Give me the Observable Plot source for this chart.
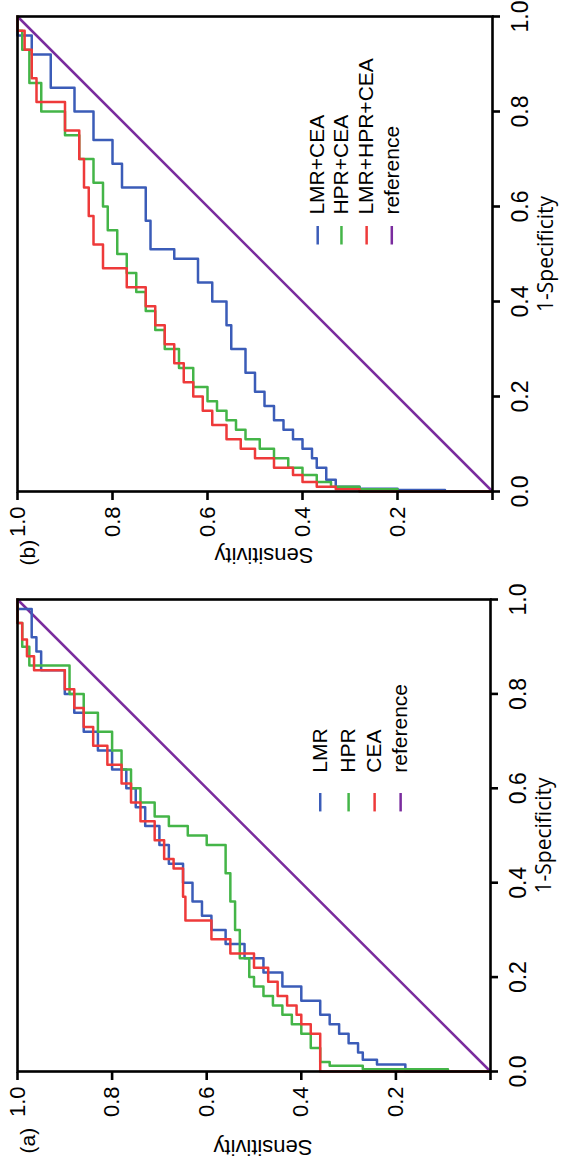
<!DOCTYPE html>
<html>
<head>
<meta charset="utf-8">
<script src="https://cdn.jsdelivr.net/npm/d3@7"></script>
<script src="https://cdn.jsdelivr.net/npm/@observablehq/plot@0.6"></script>
<style>
html, body { margin: 0; padding: 0; background: #fff; overflow: hidden; width: 561px; height: 1161px; }
#fig { position: absolute; left: 0; top: 0; width: 1161px; height: 561px; background: #fff;
       transform-origin: 0 0; transform: translate(0px, 1161px) rotate(-90deg); }
#fig > div { position: absolute; top: 0; }
</style>
</head>
<body>
<div id="fig"><div id="pa" style="left:0px"></div><div id="pb" style="left:580px"></div></div>
<script>
// ---------- data ----------
const xTicks = [0, 0.2, 0.4, 0.6, 0.8, 1.0];
const yTicks = [0, 0.2, 0.4, 0.6, 0.8, 1.0];
const refFpr = [0, 1];
const refSens = [0, 1];

// Panel (a)
const namesA = ["LMR", "HPR", "CEA", "reference"];
const aLMRfpr  = [0, 0.015, 0.025, 0.04, 0.06, 0.08, 0.10, 0.12, 0.15, 0.18, 0.21, 0.24, 0.27, 0.30, 0.33, 0.36, 0.40, 0.44, 0.48, 0.52, 0.56, 0.60, 0.64, 0.68, 0.72, 0.76, 0.80, 0.85, 0.89, 0.92, 0.98, 1];
const aLMRsens = [0, 0.18, 0.24, 0.27, 0.28, 0.30, 0.32, 0.34, 0.36, 0.40, 0.44, 0.48, 0.52, 0.56, 0.59, 0.61, 0.63, 0.65, 0.68, 0.70, 0.73, 0.75, 0.77, 0.80, 0.83, 0.86, 0.88, 0.90, 0.95, 0.96, 0.97, 1];
const aHPRfpr  = [0, 0.005, 0.012, 0.02, 0.05, 0.08, 0.10, 0.12, 0.14, 0.16, 0.18, 0.20, 0.24, 0.30, 0.36, 0.42, 0.48, 0.50, 0.52, 0.54, 0.57, 0.60, 0.64, 0.68, 0.72, 0.76, 0.80, 0.86, 0.90, 0.95, 1];
const aHPRsens = [0, 0.09, 0.27, 0.34, 0.36, 0.38, 0.40, 0.42, 0.44, 0.46, 0.48, 0.50, 0.51, 0.53, 0.54, 0.55, 0.56, 0.60, 0.64, 0.68, 0.71, 0.74, 0.76, 0.78, 0.80, 0.83, 0.86, 0.89, 0.975, 0.99, 1];
const aCEAfpr  = [0, 0.08, 0.10, 0.12, 0.14, 0.16, 0.19, 0.22, 0.25, 0.28, 0.32, 0.37, 0.43, 0.45, 0.49, 0.53, 0.57, 0.61, 0.65, 0.69, 0.73, 0.77, 0.81, 0.85, 0.88, 0.915, 0.95, 1];
const aCEAsens = [0, 0.36, 0.38, 0.40, 0.41, 0.43, 0.45, 0.47, 0.50, 0.55, 0.59, 0.645, 0.65, 0.67, 0.69, 0.71, 0.74, 0.76, 0.78, 0.81, 0.84, 0.86, 0.88, 0.90, 0.965, 0.98, 0.99, 1];

// Panel (b)
const namesB = ["LMR+CEA", "HPR+CEA", "LMR+HPR+CEA", "reference"];
const bLCfpr  = [0, 0.003, 0.006, 0.01, 0.025, 0.05, 0.07, 0.09, 0.11, 0.13, 0.15, 0.18, 0.21, 0.25, 0.30, 0.35, 0.40, 0.44, 0.49, 0.51, 0.57, 0.64, 0.69, 0.74, 0.80, 0.85, 0.92, 0.96, 1];
const bLCsens = [0, 0.10, 0.20, 0.28, 0.33, 0.35, 0.37, 0.38, 0.40, 0.42, 0.44, 0.46, 0.48, 0.50, 0.52, 0.55, 0.56, 0.59, 0.62, 0.67, 0.72, 0.73, 0.78, 0.80, 0.84, 0.88, 0.93, 0.97, 1];
const bHCfpr  = [0, 0.005, 0.01, 0.02, 0.035, 0.05, 0.07, 0.09, 0.11, 0.13, 0.15, 0.17, 0.19, 0.22, 0.26, 0.30, 0.34, 0.38, 0.42, 0.46, 0.50, 0.55, 0.60, 0.65, 0.70, 0.75, 0.80, 0.86, 0.93, 0.97, 1];
const bHCsens = [0, 0.20, 0.28, 0.34, 0.37, 0.40, 0.43, 0.46, 0.49, 0.52, 0.54, 0.56, 0.58, 0.60, 0.63, 0.66, 0.69, 0.71, 0.73, 0.75, 0.77, 0.79, 0.81, 0.82, 0.84, 0.87, 0.90, 0.95, 0.975, 0.99, 1];
const bLHCfpr  = [0, 0.005, 0.01, 0.02, 0.035, 0.05, 0.07, 0.09, 0.11, 0.14, 0.17, 0.20, 0.23, 0.27, 0.31, 0.35, 0.39, 0.43, 0.47, 0.52, 0.58, 0.64, 0.70, 0.76, 0.82, 0.87, 0.93, 0.97, 1];
const bLHCsens = [0, 0.28, 0.33, 0.37, 0.40, 0.42, 0.46, 0.50, 0.53, 0.56, 0.59, 0.61, 0.63, 0.65, 0.67, 0.69, 0.71, 0.73, 0.77, 0.82, 0.84, 0.85, 0.86, 0.87, 0.90, 0.96, 0.97, 0.985, 1];

// ---------- styles ----------
const colors = ["#3b5cb8", "#44b548", "#ee3a3a", "#7a2c9e"];
const SANS = "'Liberation Sans', Arial, sans-serif";

function rows(fpr, sens) { return d3.zip(fpr, sens).map(([f, s]) => ({fpr: f, sens: s})); }

function panel(cfg) {
  const marks = [
    Plot.line(rows(refFpr, refSens), {x: "fpr", y: "sens", stroke: colors[3], strokeWidth: 2.5}),
  ];
  cfg.series.forEach((s, i) => {
    marks.push(Plot.line(rows(s[0], s[1]), {x: "fpr", y: "sens", stroke: colors[i], strokeWidth: 2.5, curve: "step-before"}));
  });
  cfg.names.forEach((n, i) => {
    const item = [{n, y: cfg.legRows[i]}];
    marks.push(Plot.link(item, {x1: () => cfg.legLine[0], x2: () => cfg.legLine[1], y1: "y", y2: "y", stroke: colors[i], strokeWidth: 2.5}));
    marks.push(Plot.text(item, {x: () => cfg.legText, y: "y", text: "n", textAnchor: "start", fontSize: 21, fontFamily: SANS, fill: "black"}));
  });
  marks.push(
    Plot.frame({stroke: "black", strokeWidth: 2.6}),
    Plot.axisX({ticks: xTicks, tickFormat: d3.format(".1f"), tickSize: 8, tickPadding: 11, strokeWidth: 2.6, fontSize: 23, fontFamily: SANS, label: null}),
    Plot.axisY({ticks: yTicks, tickFormat: d => d === 0 ? "" : d3.format(".1f")(d), tickSize: 8, tickPadding: 7, strokeWidth: 2.6, fontSize: 22, fontFamily: SANS, label: null}),
    Plot.text(["1-Specificity"], {text: d => d, frameAnchor: "bottom", textAnchor: "middle", dy: 60, fontSize: 21, fontFamily: "'Open Sans', sans-serif", fill: "black"}),
    Plot.text(["Sensitivity"], {text: d => d, frameAnchor: "left", textAnchor: "middle", rotate: -90, dx: cfg.titleDx, dy: 9, fontSize: 22, fontFamily: SANS, fill: "black"}),
    Plot.text([cfg.tag], {text: d => d, frameAnchor: "top-left", textAnchor: "start", dx: cfg.tagDx, dy: 3, fontSize: 21, fontFamily: SANS, fill: "black"})
  );
  return Plot.plot({
    width: cfg.width, height: 561,
    marginLeft: 89, marginRight: cfg.marginRight, marginTop: 17, marginBottom: cfg.marginBottom,
    x: {domain: [0, 1]}, y: {domain: [0, 1]},
    style: {fontFamily: SANS, fontSize: "20px", background: "white", color: "black", overflow: "visible"},
    marks
  });
}

document.getElementById("pa").append(panel({
  tag: "(a)", names: namesA,
  series: [[aLMRfpr, aLMRsens], [aHPRfpr, aHPRsens], [aCEAfpr, aCEAsens]],
  legRows: [0.36, 0.30, 0.245, 0.19], legLine: [0.551, 0.590], legText: 0.633,
  width: 580, marginRight: 19, marginBottom: 71, titleDx: -76, tagDx: -82
}));
document.getElementById("pb").append(panel({
  tag: "(b)", names: namesB,
  series: [[bLCfpr, bLCsens], [bHCfpr, bHCsens], [bLHCfpr, bLHCsens]],
  legRows: [0.368, 0.318, 0.265, 0.212], legLine: [0.52, 0.559], legText: 0.583,
  width: 581, marginRight: 17, marginBottom: 69, titleDx: -64, tagDx: -74
}));
</script>
</body>
</html>
